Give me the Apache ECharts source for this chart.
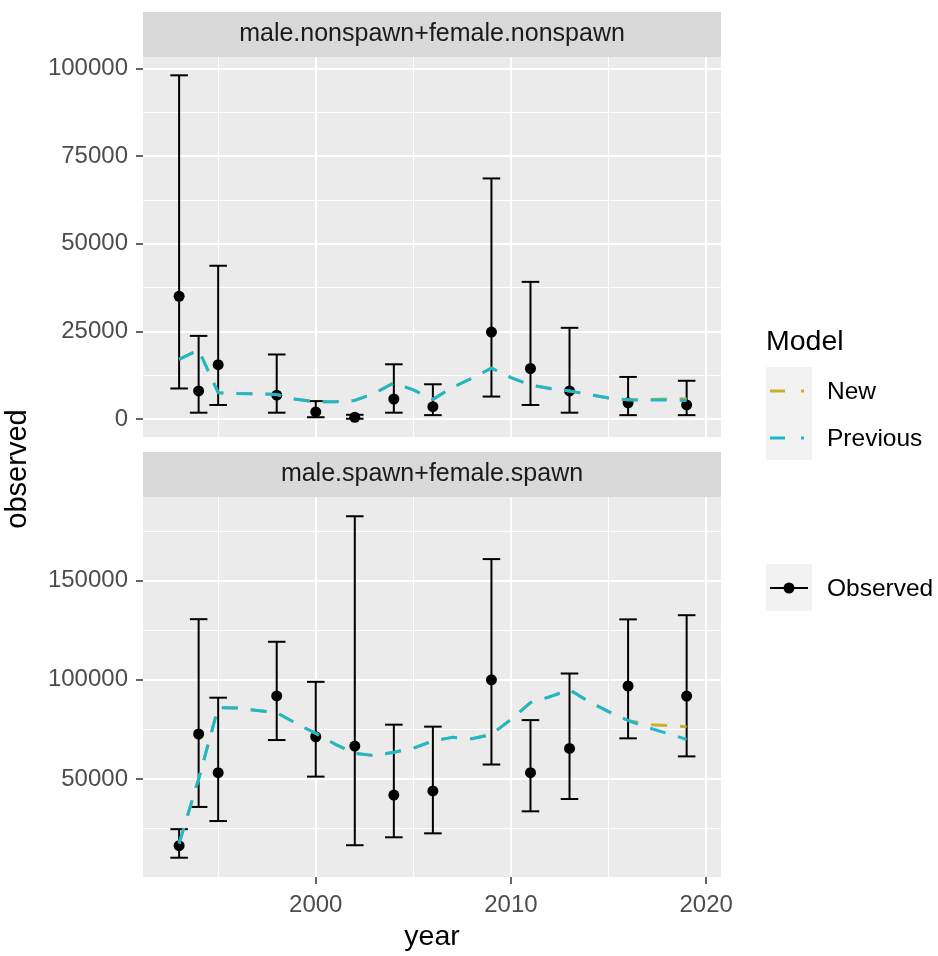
<!DOCTYPE html>
<html><head><meta charset="utf-8">
<script src="https://cdn.jsdelivr.net/npm/echarts@6/dist/echarts.min.js"></script>
<style>html,body{margin:0;padding:0;background:#fff}#c{width:938px;height:956px}</style>
</head><body><div id="c"></div>
<script>
// ---------- data ----------
const years = [1993, 1994, 1995, 1998, 2000, 2002, 2004, 2006, 2009, 2011, 2013, 2016, 2019];
// panel 1: male.nonspawn+female.nonspawn
const nsObs  = [35000, 8000, 15500, 6800, 2000, 500, 5700, 3500, 24800, 14400, 8000, 4600, 4000];
const nsHigh = [98000, 23700, 43700, 18400, 5100, 1200, 15600, 9900, 68600, 39100, 26000, 12000, 10900];
const nsLow  = [8700, 1800, 4000, 1800, 500, 80, 1800, 1100, 6400, 4000, 1800, 1100, 1100];
// panel 2: male.spawn+female.spawn
const spObs  = [16400, 72700, 53200, 91900, 71300, 66600, 41900, 44000, 100000, 53200, 65400, 96900, 91800];
const spHigh = [24700, 130600, 91000, 119200, 99000, 182500, 77400, 76400, 160900, 79700, 103200, 130500, 132600];
const spLow  = [10300, 35900, 28800, 69650, 51200, 16600, 20600, 22600, 57300, 33700, 39900, 70500, 61400];
// model estimates (annual)
const modelYears = [1993,1994,1995,1996,1997,1998,1999,2000,2001,2002,2003,2004,2005,2006,2007,2008,2009,2010,2011,2012,2013,2014,2015,2016,2017,2018,2019];
const nsPrev = [17000,19700,7500,7300,7200,7000,5600,4900,4900,5300,7300,10300,8300,5600,9000,11600,14500,11800,9700,8700,8000,7000,6000,5500,5400,5400,5300];
const nsNew  = [17000,19700,7500,7300,7200,7000,5600,4900,4900,5300,7300,10300,8300,5600,9000,11600,14500,11800,9700,8700,8000,7000,6000,5500,5500,5700,5800];
const spPrev = [17500,50000,86000,85800,84500,83500,78000,73000,67500,63000,61800,63500,65500,69200,71000,70300,72500,80000,88500,91500,95000,89000,84000,79500,76000,73000,70000];
const spNew  = [17500,50000,86000,85800,84500,83500,78000,73000,67500,63000,61800,63500,65500,69200,71000,70300,72500,80000,88500,91500,95000,89000,84000,79500,77500,77000,76400];
// axes
const xTicks = [2000, 2010, 2020];
const xMinor = [1995, 2005, 2015];
const nsTicks = [0, 25000, 50000, 75000, 100000];
const nsMinor = [12500, 37500, 62500, 87500];
const spTicks = [50000, 100000, 150000];
const spMinor = [25000, 75000, 125000, 175000];
const panelTitles = ['male.nonspawn+female.nonspawn', 'male.spawn+female.spawn'];
const modelNames = ['New', 'Previous'];

// ---------- layout ----------
const FONT = '"Liberation Sans", Arial, sans-serif';
const L = 143, R = 721, W = R - L;
const P1T = 57, P2T = 497, PH = 380;
const STRIP = 45;
const colNew = '#CDAF2E', colPrev = '#1DB7CE';
const xMin = 1991.15, xMax = 2020.76;

const chart = echarts.init(document.getElementById('c'), null, {renderer: 'canvas'});

function pairs(xs, ys) { return xs.map((x, i) => [x, ys[i]]); }
function errData(lo, hi) { return years.map((y, i) => [y, lo[i], hi[i]]); }

function errRender(params, api) {
  const x = api.value(0), lo = api.value(1), hi = api.value(2);
  const pHi = api.coord([x, hi]), pLo = api.coord([x, lo]);
  const l = api.coord([x - 0.45, hi])[0], r = api.coord([x + 0.45, hi])[0];
  const style = {stroke: '#000', lineWidth: 2, fill: null};
  return {type: 'group', children: [
    {type: 'line', shape: {x1: pHi[0], y1: pHi[1], x2: pLo[0], y2: pLo[1]}, style},
    {type: 'line', shape: {x1: l, y1: pHi[1], x2: r, y2: pHi[1]}, style},
    {type: 'line', shape: {x1: l, y1: pLo[1], x2: r, y2: pLo[1]}, style}
  ]};
}

function gridSeries(idx, yMajor, yMinor) {
  const d = [];
  xTicks.forEach(v => d.push({xAxis: v, lineStyle: {width: 2}}));
  xMinor.forEach(v => d.push({xAxis: v, lineStyle: {width: 1}}));
  yMajor.forEach(v => d.push({yAxis: v, lineStyle: {width: 2}}));
  yMinor.forEach(v => d.push({yAxis: v, lineStyle: {width: 1}}));
  return {
    type: 'line', xAxisIndex: idx, yAxisIndex: idx, z: 1, silent: true,
    data: [[2000, yMajor[0]]], symbol: 'none', lineStyle: {opacity: 0},
    markLine: {silent: true, z: 1, symbol: ['none', 'none'], label: {show: false},
      lineStyle: {color: '#ffffff', type: 'solid'}, animation: false, data: d}
  };
}

function panelSeries(idx, obs, lo, hi, mNew, mPrev) {
  return [
    {type: 'custom', xAxisIndex: idx, yAxisIndex: idx, z: 6, renderItem: errRender,
      data: errData(lo, hi), encode: {x: 0, y: [1, 2]}},
    {type: 'scatter', xAxisIndex: idx, yAxisIndex: idx, z: 7, symbol: 'circle', symbolSize: 11,
      itemStyle: {color: '#000', opacity: 1}, data: pairs(years, obs)},
    {type: 'line', name: modelNames[0], xAxisIndex: idx, yAxisIndex: idx, z: 8, symbol: 'none',
      lineStyle: {color: colNew, width: 3, type: [16, 13], cap: 'butt'}, data: pairs(modelYears, mNew)},
    {type: 'line', name: modelNames[1], xAxisIndex: idx, yAxisIndex: idx, z: 9, symbol: 'none',
      lineStyle: {color: colPrev, width: 3, type: [16, 13], cap: 'butt'}, data: pairs(modelYears, mPrev)}
  ];
}

const plain = v => String(v);

function yAxis(idx, min, max, ticks) {
  return {
    type: 'value', gridIndex: idx, min, max,
    axisLine: {show: false},
    axisTick: {show: true, length: 7, customValues: ticks, lineStyle: {color: '#333333', width: 1.5}},
    axisLabel: {customValues: ticks, formatter: plain, margin: 15, color: '#4D4D4D', fontSize: 24, fontFamily: FONT},
    splitLine: {show: false}
  };
}

const option = {
  animation: false,
  backgroundColor: '#ffffff',
  grid: [
    {left: L, top: P1T, width: W, height: PH, show: true, backgroundColor: '#EBEBEB', borderWidth: 0},
    {left: L, top: P2T, width: W, height: PH, show: true, backgroundColor: '#EBEBEB', borderWidth: 0}
  ],
  xAxis: [
    {type: 'value', gridIndex: 0, min: xMin, max: xMax, show: false, splitLine: {show: false}},
    {type: 'value', gridIndex: 1, min: xMin, max: xMax,
      axisLine: {show: false},
      axisTick: {show: true, length: 7, customValues: xTicks, lineStyle: {color: '#333333', width: 1.5}},
      axisLabel: {customValues: xTicks, formatter: plain, margin: 16, color: '#4D4D4D', fontSize: 24, fontFamily: FONT},
      splitLine: {show: false}}
  ],
  yAxis: [
    yAxis(0, -5133, 103222, nsTicks),
    yAxis(1, 580, 192209, spTicks)
  ],
  series: [
    gridSeries(0, nsTicks, nsMinor),
    gridSeries(1, spTicks, spMinor),
    ...panelSeries(0, nsObs, nsLow, nsHigh, nsNew, nsPrev),
    ...panelSeries(1, spObs, spLow, spHigh, spNew, spPrev)
  ],
  graphic: [
    // strips
    {type: 'rect', shape: {x: L, y: P1T - STRIP, width: W, height: STRIP}, style: {fill: '#D9D9D9'}},
    {type: 'text', x: (L + R) / 2, y: P1T - STRIP / 2, style: {text: panelTitles[0], font: '25px ' + FONT, fill: '#1A1A1A', align: 'center', verticalAlign: 'middle'}},
    {type: 'rect', shape: {x: L, y: P2T - STRIP, width: W, height: STRIP}, style: {fill: '#D9D9D9'}},
    {type: 'text', x: (L + R) / 2, y: P2T - STRIP / 2, style: {text: panelTitles[1], font: '25px ' + FONT, fill: '#1A1A1A', align: 'center', verticalAlign: 'middle'}},
    // axis titles
    {type: 'text', x: 18, y: 469, rotation: Math.PI / 2, style: {text: 'observed', font: '29px ' + FONT, fill: '#000', align: 'center', verticalAlign: 'middle'}},
    {type: 'text', x: (L + R) / 2, y: 937, style: {text: 'year', font: '28.5px ' + FONT, fill: '#000', align: 'center', verticalAlign: 'middle'}},
    // legend: Model
    {type: 'text', x: 766, y: 342, style: {text: 'Model', font: '28.5px ' + FONT, fill: '#000', align: 'left', verticalAlign: 'middle'}},
    {type: 'rect', shape: {x: 766, y: 367, width: 46, height: 93}, style: {fill: '#F2F2F2'}},
    {type: 'line', shape: {x1: 770, y1: 391, x2: 804, y2: 391}, style: {stroke: colNew, lineWidth: 3, lineDash: [15, 16]}},
    {type: 'line', shape: {x1: 770, y1: 438, x2: 804, y2: 438}, style: {stroke: colPrev, lineWidth: 3, lineDash: [15, 16]}},
    {type: 'text', x: 827, y: 392, style: {text: modelNames[0], font: '24.5px ' + FONT, fill: '#000', align: 'left', verticalAlign: 'middle'}},
    {type: 'text', x: 827, y: 439, style: {text: modelNames[1], font: '24.5px ' + FONT, fill: '#000', align: 'left', verticalAlign: 'middle'}},
    // legend: Observed
    {type: 'rect', shape: {x: 766, y: 564, width: 46, height: 47}, style: {fill: '#F2F2F2'}},
    {type: 'line', shape: {x1: 770, y1: 588, x2: 808, y2: 588}, style: {stroke: '#000', lineWidth: 2}},
    {type: 'circle', shape: {cx: 789, cy: 588, r: 5.5}, style: {fill: '#000'}},
    {type: 'text', x: 827, y: 589, style: {text: 'Observed', font: '24.5px ' + FONT, fill: '#000', align: 'left', verticalAlign: 'middle'}}
  ]
};
chart.setOption(option);
</script>
</body></html>
